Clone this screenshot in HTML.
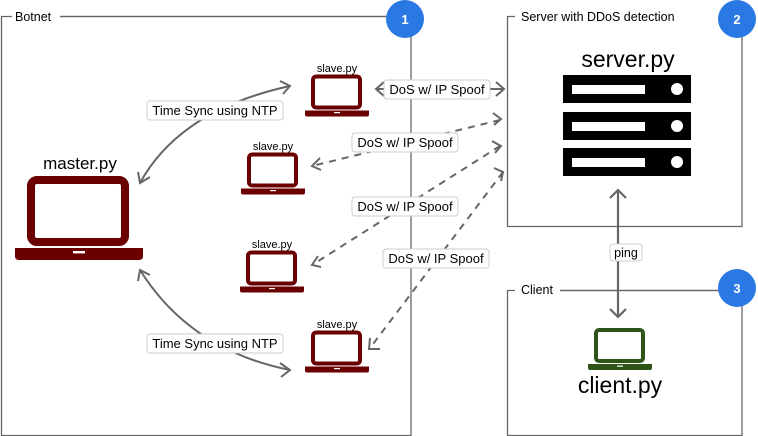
<!DOCTYPE html>
<html><head><meta charset="utf-8"><style>
html,body{margin:0;padding:0;background:#fff;}
svg{display:block;font-family:"Liberation Sans",sans-serif;}
</style></head><body>
<svg width="758" height="436" viewBox="0 0 758 436" xmlns="http://www.w3.org/2000/svg">
<defs>
<symbol id="lap" viewBox="0 0 64 42">
<rect x="8" y="2" width="47" height="31" rx="3" fill="none" stroke="currentColor" stroke-width="4"/>
<path d="M0 36 H64 V40 Q64 42 62 42 H2 Q0 42 0 40 Z" fill="currentColor"/>
<rect x="29" y="37.5" width="6" height="1.2" fill="#fff"/>
</symbol>
</defs>
<g fill="none" stroke="#666" stroke-width="1.3">
<path d="M12 16.5 H1.5 V435.5 H411 V16.5 H60"/>
<path d="M515 16.5 H507.5 V226.5 H742 V16.5 H720"/>
<path d="M515 290.5 H507.5 V435.5 H742 V290.5 H560"/>
</g>
<path d="M60 16.5 H400" stroke="#666" stroke-width="1.3"/>
<path d="M560 290.5 H720" stroke="#666" stroke-width="1.3"/>
<rect x="12" y="8" width="46" height="16" fill="#fff"/>
<rect x="515" y="8" width="203" height="16" fill="#fff"/>
<rect x="515" y="282" width="42" height="16" fill="#fff"/>
<text x="15" y="21" font-size="12.5" fill="#000">Botnet</text>
<text x="521" y="21" font-size="12.5" fill="#000">Server with DDoS detection</text>
<text x="521" y="294" font-size="12.5" fill="#000">Client</text>
<g fill="#2a78e4"><circle cx="405" cy="19" r="19"/><circle cx="737" cy="19" r="19"/><circle cx="737" cy="288" r="19"/></g>
<g fill="#fff" font-size="13" font-weight="bold" text-anchor="middle"><text x="405" y="24">1</text><text x="737" y="24">2</text><text x="737" y="293">3</text></g>

<text x="628" y="67" font-size="23" text-anchor="middle">server.py</text>
<g>
<rect x="563" y="75" width="128" height="28" fill="#000"/><rect x="572" y="85" width="73" height="9" fill="#fff"/><circle cx="677" cy="89" r="6" fill="#fff"/>
<rect x="563" y="112" width="128" height="28" fill="#000"/><rect x="572" y="122" width="73" height="9" fill="#fff"/><circle cx="677" cy="126" r="6" fill="#fff"/>
<rect x="563" y="148" width="128" height="28" fill="#000"/><rect x="572" y="158" width="73" height="9" fill="#fff"/><circle cx="677" cy="162" r="6" fill="#fff"/>
</g>
<g stroke="#666" stroke-width="2.2" fill="none">
<path d="M618 190 V316"/><path d="M610 198 L618 190 L626 198"/><path d="M610 309 L618 317 L626 309"/>
</g>
<rect x="610" y="244" width="32" height="17" rx="3" fill="#fff" stroke="#ccc"/>
<text x="626" y="257" font-size="12.5" text-anchor="middle">ping</text>
<use href="#lap" x="588" y="328" width="64" height="42" color="#2f5418"/>
<text x="620" y="393" font-size="23" text-anchor="middle">client.py</text>

<use href="#lap" x="15" y="175" width="128" height="86" color="#6b0000" preserveAspectRatio="none"/>
<text x="80" y="169" font-size="17" text-anchor="middle">master.py</text>
<use href="#lap" x="305" y="74" width="64" height="43" color="#6b0000"/>
<text x="337" y="72" font-size="11" text-anchor="middle">slave.py</text>
<use href="#lap" x="241" y="152" width="64" height="43" color="#6b0000"/>
<text x="273" y="150" font-size="11" text-anchor="middle">slave.py</text>
<use href="#lap" x="240" y="250" width="64" height="43" color="#6b0000"/>
<text x="272" y="248" font-size="11" text-anchor="middle">slave.py</text>
<use href="#lap" x="305" y="330" width="64" height="43" color="#6b0000"/>
<text x="337" y="328" font-size="11" text-anchor="middle">slave.py</text>

<g stroke="#666" stroke-width="2" fill="none">
<path d="M290 86 Q180 110 140 183"/><path d="M280 81 L290 86 L283 94"/><path d="M138 172 L140 183 L150 177"/>
<path d="M140 270 Q190 350 290 370"/><path d="M138 281 L140 270 L150 275"/><path d="M280 363 L290 370 L281 377"/>
<path d="M376 89 H504"/><path d="M384 82 L376 89 L384 96"/><path d="M496 82 L504 89 L496 96"/>
<g stroke-dasharray="7 6"><path d="M500 120 L312 166"/><path d="M500 146 L312 265"/><path d="M503 172 L370 348"/></g>
<path d="M320 158 L312 166 L321 170"/><path d="M493 113 L501 119 L494 125"/>
<path d="M318 256 L312 265 L321 267"/><path d="M492 141 L501 146 L495 153"/>
<path d="M370 338 L369 349 L380 349"/><path d="M494 168 L503 172 L501 181"/>
</g>
<g fill="#fff" stroke="#ccc" stroke-width="1">
<rect x="147" y="101" width="136" height="19" rx="3"/>
<rect x="147" y="334" width="136" height="19" rx="3"/>
<rect x="384" y="80" width="106" height="19" rx="3"/>
<rect x="352" y="133" width="106" height="19" rx="3"/>
<rect x="352" y="197" width="106" height="19" rx="3"/>
<rect x="383" y="249" width="106" height="19" rx="3"/>
</g>
<g font-size="13" text-anchor="middle" fill="#000">
<text x="215" y="115">Time Sync using NTP</text>
<text x="215" y="348">Time Sync using NTP</text>
<text x="437" y="94">DoS w/ IP Spoof</text>
<text x="405" y="147">DoS w/ IP Spoof</text>
<text x="405" y="211">DoS w/ IP Spoof</text>
<text x="436" y="263">DoS w/ IP Spoof</text>
</g>
</svg>
</body></html>
